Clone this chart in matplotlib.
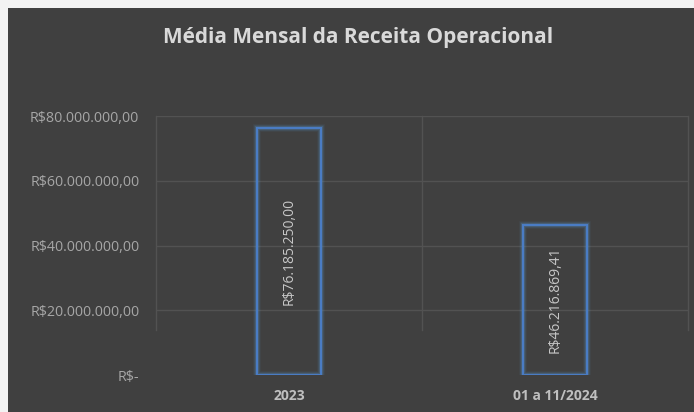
import matplotlib
matplotlib.use("Agg")
import matplotlib.pyplot as plt
from matplotlib.patches import Rectangle
from matplotlib.ticker import FuncFormatter

categories = ["2023", "01 a 11/2024"]
values = [76185250.00, 46216869.41]
value_labels = ["R$76.185.250,00", "R$46.216.869,41"]
title = "Média Mensal da Receita Operacional"

BG = "#404040"
plt.rcParams['font.family'] = ['Open Sans', 'DejaVu Sans']

fig = plt.figure(figsize=(6.94, 4.12), dpi=100)
fig.patch.set_facecolor("#F2F2F2")
fig.patches.append(Rectangle((8/694, 0), 1, 1 - 8/412, transform=fig.transFigure,
                             facecolor=BG, edgecolor="none", zorder=-5))

ax = fig.add_axes([156/694, 1 - 375/412, (688 - 156)/694, (375 - 116)/412])
ax.set_facecolor(BG)
ax.patch.set_alpha(0)
ax.set_xlim(-0.5, 1.5)
ax.set_ylim(0, 80e6)

# gridlines
for y in [20e6, 40e6, 60e6, 80e6]:
    ax.axhline(y, color="#525252", lw=1, zorder=1)
for x in [-0.5, 0.5, 1.5]:
    ax.plot([x, x], [14e6, 80e6], color="#525252", lw=1, zorder=1, clip_on=False)

xs = list(range(len(categories)))
w = 0.24
# glow
for lw, a in [(5.5, 0.07), (4, 0.13), (3, 0.2)]:
    ax.bar(xs, values, width=w, facecolor="none", edgecolor="#5B9BD5", lw=lw, alpha=a, zorder=2)
ax.bar(xs, values, width=w, facecolor="none", edgecolor="#4A7CC4", lw=1.5, zorder=3)

for x, v, lab in zip(xs, values, value_labels):
    ax.text(x, v / 2, lab, rotation=90, ha="center", va="center",
            color="#C8C8C8", fontsize=10, zorder=4)

ax.set_xticks(xs)
ax.set_xticklabels(categories, fontweight="bold", color="#BFBFBF", fontsize=10)
ax.set_yticks([0, 20e6, 40e6, 60e6, 80e6])

def fmt(v, pos):
    if v == 0:
        return "R$-"
    s = f"{v:,.2f}"
    s = s.replace(",", "X").replace(".", ",").replace("X", ".")
    return "R$" + s

ax.yaxis.set_major_formatter(FuncFormatter(fmt))
ax.tick_params(axis="y", length=0, pad=12, labelcolor="#A6A6A6", labelsize=10.3)
ax.tick_params(axis="x", length=0, pad=10)
for s in ax.spines.values():
    s.set_visible(False)

fig.text(358/694, 1 - 38/412, title, ha="center", va="center",
         color="#D9D9D9", fontsize=15, fontweight="bold")

fig.savefig("out.png", dpi=100, facecolor=fig.get_facecolor())
